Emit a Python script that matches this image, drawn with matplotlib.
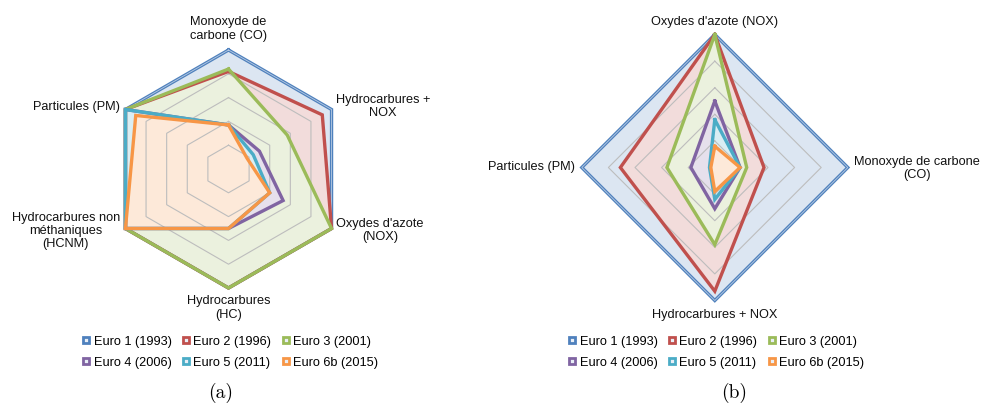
import numpy as np
import matplotlib
matplotlib.use("Agg")
import matplotlib.pyplot as plt
from matplotlib.lines import Line2D

# ---------------- data ----------------
series_names = ['Euro 1 (1993)', 'Euro 2 (1996)', 'Euro 3 (2001)',
                'Euro 4 (2006)', 'Euro 5 (2011)', 'Euro 6b (2015)']

# chart (a): clockwise from top
categories_a = ['Monoxyde de\ncarbone (CO)', 'Hydrocarbures +\nNOX',
                "Oxydes d'azote\n(NOX)", 'Hydrocarbures\n(HC)',
                'Hydrocarbures non\nméthaniques\n(HCNM)', 'Particules (PM)']
euro1_a = [1.00, 1.00, 1.00, 1.00, 1.00, 1.00]
euro2_a = [0.82, 0.91, 1.00, 1.00, 1.00, 1.00]
euro3_a = [0.84, 0.57, 1.00, 1.00, 1.00, 1.00]
euro4_a = [0.37, 0.30, 0.53, 0.50, 1.00, 1.00]
euro5_a = [0.37, 0.24, 0.40, 0.50, 1.00, 1.00]
euro6_a = [0.37, 0.18, 0.40, 0.50, 1.00, 0.90]

# chart (b): clockwise from top
categories_b = ["Oxydes d'azote (NOX)", 'Monoxyde de carbone\n(CO)',
                'Hydrocarbures + NOX', 'Particules (PM)']
euro1_b = [1.00, 1.00, 1.00, 1.00]
euro2_b = [1.00, 0.37, 0.93, 0.71]
euro3_b = [1.00, 0.24, 0.58, 0.36]
euro4_b = [0.50, 0.19, 0.31, 0.18]
euro5_b = [0.36, 0.19, 0.24, 0.04]
euro6_b = [0.16, 0.19, 0.18, 0.03]

grid_levels = [0.2, 0.4, 0.6, 0.8, 1.0]

# ---------------- style ----------------
line_colors = ['#4F81BD', '#C0504D', '#9BBB59', '#8064A2', '#4BACC6', '#F79646']
fill_colors = ['#DCE6F2', '#F2DCDB', '#EBF1DE', '#E6E0EC', '#DAEEF3', '#FDE9D9']

FONT = 'Liberation Sans'
FS = 9.2
W, H = 982, 403

fig = plt.figure(figsize=(W / 100, H / 100), dpi=100)


def make_ax(cx, cy, R, L=1.3):
    w = 2 * L * R
    ax = fig.add_axes([(cx - w / 2) / W, (H - cy - w / 2) / H, w / W, w / H])
    ax.set_xlim(-L, L)
    ax.set_ylim(-L, L)
    ax.axis('off')
    return ax


def xy(values):
    n = len(values)
    th = np.arange(n) * 2 * np.pi / n
    v = np.asarray(values, dtype=float)
    x = v * np.sin(th)
    y = v * np.cos(th)
    return np.append(x, x[0]), np.append(y, y[0])


def radar(ax, data):
    n = len(data[0])
    for i, vals in enumerate(data):
        x, y = xy(vals)
        ax.fill(x, y, color=fill_colors[i], zorder=1 + i * 0.01, lw=0)
    for lev in grid_levels:
        x, y = xy([lev] * n)
        ax.plot(x, y, color='#BDBDBD', lw=0.8, zorder=2)
    for i, vals in enumerate(data):
        x, y = xy(vals)
        ax.plot(x, y, color=line_colors[i], lw=2.4, zorder=3 + i,
                solid_joinstyle='miter')
        if i == 0:
            ax.plot(x, y, color='#B9CCE4', lw=0.6, zorder=3.5,
                    solid_joinstyle='miter')


# chart (a)
ax_a = make_ax(228.5, 169.0, 119.0)
radar(ax_a, [euro1_a, euro2_a, euro3_a, euro4_a, euro5_a, euro6_a])
label_pos_a = [(0.0, 1.176, 'center'), (1.298, 0.525, 'center'),
               (1.273, -0.517, 'center'), (0.0, -1.168, 'center'),
               (-1.368, -0.521, 'center'), (-0.908, 0.524, 'right')]
for lab, (lx, ly, ha) in zip(categories_a, label_pos_a):
    ax_a.text(lx, ly, lab, ha=ha, va='center', fontsize=FS, family=FONT,
              linespacing=1.15, color='#111111', clip_on=False)

# chart (b)
ax_b = make_ax(714.8, 167.5, 133.0)
radar(ax_b, [euro1_b, euro2_b, euro3_b, euro4_b, euro5_b, euro6_b])
label_pos_b = [(0.0, 1.094, 'center'), (1.52, -0.008, 'center'),
               (0.0, -1.109, 'center'), (-1.048, 0.0, 'right')]
for lab, (lx, ly, ha) in zip(categories_b, label_pos_b):
    ax_b.text(lx, ly, lab, ha=ha, va='center', fontsize=FS, family=FONT,
              linespacing=1.15, color='#111111', clip_on=False)

# legends
handles = [Line2D([], [], ls='none', marker='s', markersize=4.6,
                  markerfacecolor='#E8EEF6', markeredgecolor=c, markeredgewidth=2.0)
           for c in line_colors]
order = [0, 3, 1, 4, 2, 5]
hs = [handles[i] for i in order]
ls = [series_names[i] for i in order]
for x0 in (82.0, 568.0):
    fig.legend(hs, ls, ncol=3, loc='center left',
               bbox_to_anchor=(x0 / W, 1 - 352.2 / H),
               frameon=False, borderpad=0, borderaxespad=0,
               handlelength=0.7, handletextpad=0.2, columnspacing=0.8,
               labelspacing=0.73, prop={'family': FONT, 'size': FS})

# captions
fig.text(221 / W, 1 - 392.7 / H, '(a)', ha='center', va='center',
         fontsize=14, family='cmr10')
fig.text(733.7 / W, 1 - 392.7 / H, '(b)', ha='center', va='center',
         fontsize=14, family='cmr10')

fig.savefig('out.png', dpi=100, facecolor='white')
